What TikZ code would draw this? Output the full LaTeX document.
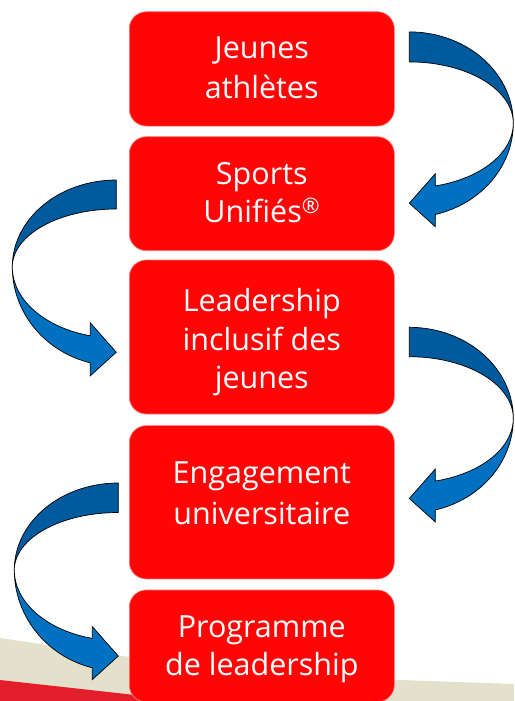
\documentclass[tikz,border=0pt]{standalone}
\usepackage{fontspec}
\setmainfont{Open Sans}
\definecolor{boxred}{RGB}{255,5,5}
\definecolor{boxedge}{RGB}{255,120,120}
\definecolor{arrdark}{RGB}{0,90,158}
\definecolor{arrlight}{RGB}{0,113,193}
\definecolor{beige}{RGB}{227,224,204}
\definecolor{bandred}{RGB}{228,30,42}
\tikzset{
  stepbox/.style={rectangle, rounded corners=17pt, fill=boxred, draw=boxedge,
    line width=0.6pt, minimum width=265pt, inner sep=0pt},
  boxtext/.style={text=white, anchor=base, inner sep=0pt,
    font=\fontsize{30.5}{36}\selectfont},
  arrowdark/.style={fill=arrdark, draw=black, line width=0.7pt, line join=round},
  arrowlight/.style={fill=arrlight, draw=black, line width=0.7pt, line join=miter},
}
% #1 cx, #2 cy, #3 side (+1 right, -1 left), #4..#7 radii
\newcommand{\ribbonarrow}[7]{%
  \pgfmathsetmacro{\rbMid}{#2+0.968*(#6+#7)/2}%
  \filldraw[arrowdark] (#1,{#2-#4})
    -- plot[domain=90:0,samples=45,variable=\t] ({#1+(#3)*104*cos(\t)},{#2-#4*sin(\t)})
    -- plot[domain=0:90,samples=45,variable=\t] ({#1+(#3)*104*cos(\t)},{#2-#5*sin(\t)})
    -- cycle;
  \filldraw[arrowlight] ({#1+(#3)*104},#2)
    -- plot[domain=0:-75.52,samples=45,variable=\t] ({#1+(#3)*104*cos(\t)},{#2-#7*sin(\t)})
    -- ({#1+(#3)*26},{\rbMid+26.5})
    -- (#1,{\rbMid+3})
    -- ({#1+(#3)*26},{\rbMid-26.5})
    -- plot[domain=-75.52:0,samples=45,variable=\t] ({#1+(#3)*104*cos(\t)},{#2-#6*sin(\t)})
    -- cycle;
}
\begin{document}
\begin{tikzpicture}[x=1pt,y=-1pt]
\useasboundingbox (0,0) rectangle (514,701);
\clip (0,0) rectangle (514,701);
\fill[white] (0,0) rectangle (514,701);
% background bands
\fill[beige] (0,638) .. controls (250,675) .. (514,684) -- (514,710) -- (0,710) -- cycle;
\fill[bandred] (0,680) -- (514,737) -- (514,745) -- (0,745) -- cycle;

% boxes
\node[stepbox, minimum height=114.3pt] (b1) at (261.8,68.9) {};
\node[stepbox, minimum height=114pt]   (b2) at (261.8,193.7) {};
\node[stepbox, minimum height=154pt]   (b3) at (261.8,337) {};
\node[stepbox, minimum height=153.3pt] (b4) at (261.8,502.3) {};
\node[stepbox, minimum height=112pt]   (b5) at (261.8,646) {};

% texts
\node[boxtext] (t1a) at (261.8,58.3) {Jeunes};
\node[boxtext] (t1b) at (261.8,98.3) {athlètes};
\node[boxtext] (t2a) at (261.8,184.3) {Sports};
\node[boxtext] (t2b) at (261.8,222.7) {Unifiés\textsuperscript{®}};
\node[boxtext] (t3a) at (261.8,311) {Leadership};
\node[boxtext] (t3b) at (261.8,350) {inclusif des};
\node[boxtext] (t3c) at (261.8,388.3) {jeunes};
\node[boxtext] (t4a) at (261.8,483.3) {Engagement};
\node[boxtext] (t4b) at (261.8,524.3) {universitaire};
\node[boxtext] (t5a) at (261.8,637.7) {Programme};
\node[boxtext] (t5b) at (261.8,675) {de leadership};

% curved arrows
\ribbonarrow{409.3}{123.2}{1}{91.3}{61.3}{64.8}{94.3}
\ribbonarrow{409.3}{418.3}{1}{91}{61.6}{64.8}{94.7}
\ribbonarrow{116.3}{267}{-1}{87}{58}{71}{99}
\ribbonarrow{118.3}{570}{-1}{87}{57.5}{70.6}{101}
\end{tikzpicture}
\end{document}
